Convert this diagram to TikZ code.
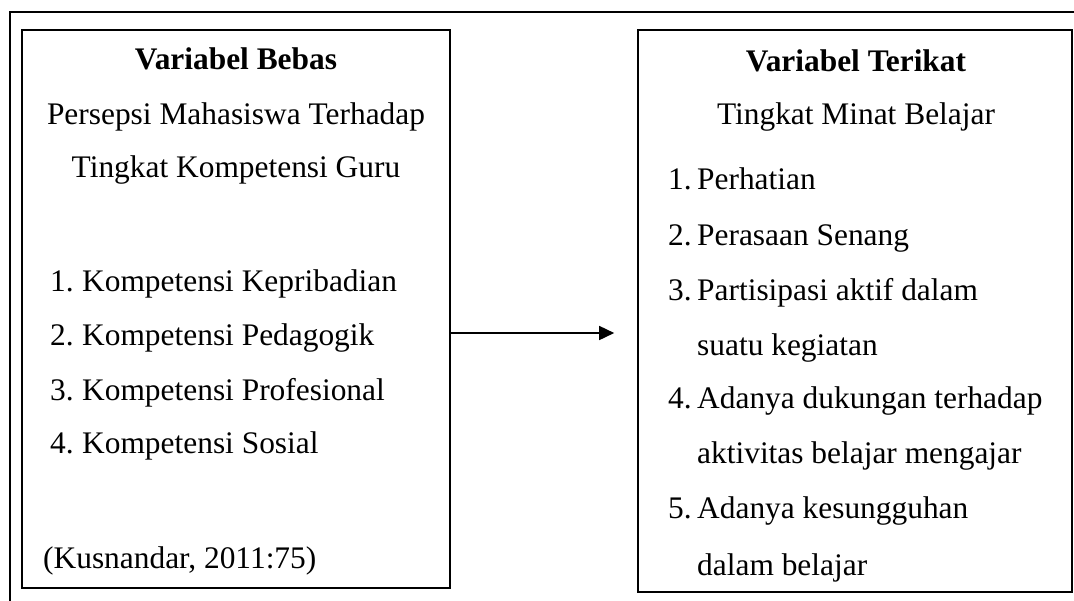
\documentclass[tikz,border=0pt]{standalone}
\usepackage{fontspec}
\setmainfont{Liberation Serif}
\usetikzlibrary{arrows.meta}
\begin{document}
\begin{tikzpicture}[x=1pt,y=-1pt,
  txt/.style={inner sep=0pt, font=\fontsize{31.4}{36}\selectfont},
  ttl/.style={txt, font=\fontsize{31.4}{36}\selectfont\bfseries},
  box/.style={draw, line width=1.6pt, inner sep=0pt},
  frame/.style={line width=2pt},
  arr/.style={line width=1.6pt, -{Triangle[length=15pt,width=14pt]}}]
\useasboundingbox (0,0) rectangle (1074,600);
\draw[frame] (1080,12) -- (10,12) -- (10,606);
\node[box, minimum width=428pt, minimum height=558pt] (lbox) at (236,309) {};
\node[box, minimum width=434pt, minimum height=562pt] (rbox) at (855,311) {};
% left texts
\node[ttl, anchor=base] (l1) at (236,69) {Variabel Bebas};
\node[txt, anchor=base] (l2) at (236,124) {Persepsi Mahasiswa Terhadap};
\node[txt, anchor=base] (l3) at (236,177) {Tingkat Kompetensi Guru};
\node[txt, anchor=base west] (l4) at (50,291) {\makebox[32pt][l]{1.}Kompetensi Kepribadian};
\node[txt, anchor=base west] (l5) at (50,345) {\makebox[32pt][l]{2.}Kompetensi Pedagogik};
\node[txt, anchor=base west] (l6) at (50,400) {\makebox[32pt][l]{3.}Kompetensi Profesional};
\node[txt, anchor=base west] (l7) at (50,453) {\makebox[32pt][l]{4.}Kompetensi Sosial};
\node[txt, anchor=base west] (l8) at (43,568) {(Kusnandar, 2011:75)};
% right texts
\node[ttl, anchor=base] (r1) at (856,71) {Variabel Terikat};
\node[txt, anchor=base] (r2) at (856,124) {Tingkat Minat Belajar};
\node[txt, anchor=base west] (r3) at (668,189) {\makebox[29pt][l]{1.}Perhatian};
\node[txt, anchor=base west] (r4) at (668,245) {\makebox[29pt][l]{2.}Perasaan Senang};
\node[txt, anchor=base west] (r5) at (668,300) {\makebox[29pt][l]{3.}Partisipasi aktif dalam};
\node[txt, anchor=base west] (r6) at (697,355) {suatu kegiatan};
\node[txt, anchor=base west] (r7) at (668,408) {\makebox[29pt][l]{4.}Adanya dukungan terhadap};
\node[txt, anchor=base west] (r8) at (697,463) {aktivitas belajar mengajar};
\node[txt, anchor=base west] (r9) at (668,518) {\makebox[29pt][l]{5.}Adanya kesungguhan};
\node[txt, anchor=base west] (r10) at (697,575) {dalam belajar};
% arrow
\draw[arr, shorten >=23pt] (lbox.east |- 0,333) -- (rbox.west |- 0,333);
\end{tikzpicture}
\end{document}
